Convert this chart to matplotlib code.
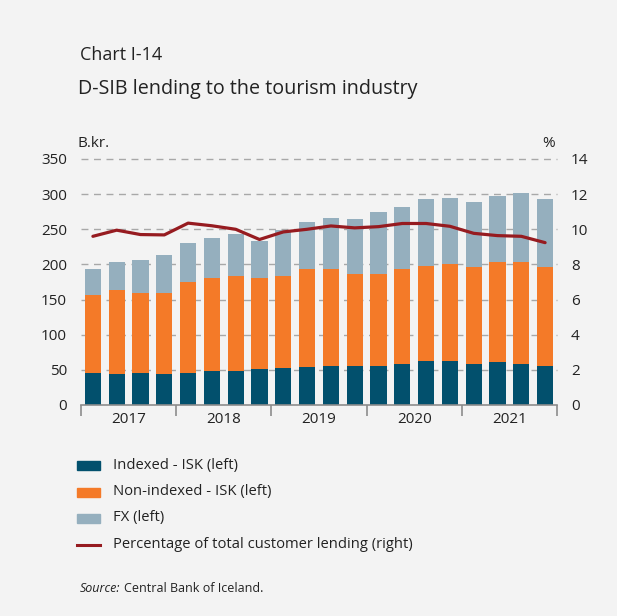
import matplotlib
matplotlib.use("Agg")
import matplotlib.pyplot as plt
from matplotlib.patches import Patch
from matplotlib.lines import Line2D
import numpy as np

# Quarterly data, 2017Q1 - 2021Q4
years = ["2017", "2018", "2019", "2020", "2021"]
indexed = [46, 44, 46, 44, 46, 49, 49, 51, 52, 54,
           56, 56, 55, 59, 62, 62, 59, 61, 59, 56]
non_indexed = [111, 119, 114, 116, 129, 132, 134, 130, 132, 140,
               138, 130, 131, 134, 136, 139, 138, 142, 144, 140]
fx = [37, 41, 47, 53, 56, 56, 60, 53, 65, 66,
      72, 78, 89, 89, 95, 93, 92, 94, 99, 97]
share_pct = [9.6, 9.95, 9.7, 9.68, 10.35, 10.2, 10.0, 9.42, 9.85, 10.0,
             10.19, 10.08, 10.15, 10.33, 10.33, 10.17, 9.77, 9.64, 9.6, 9.24]

c_idx = "#02506d"
c_non = "#f47a28"
c_fx = "#95afbe"
c_line = "#961b20"
bg = "#f3f3f3"
txt = "#222222"

font = ["Open Sans", "DejaVu Sans"]
plt.rcParams["font.family"] = font

W, H = 617, 616
fig = plt.figure(figsize=(W / 100, H / 100), dpi=100, facecolor=bg)

x0, x1, y0, y1 = 81, 557, 405, 159
ax = fig.add_axes([x0 / W, 1 - y0 / H, (x1 - x0) / W, (y0 - y1) / H])
ax.set_facecolor(bg)

n = len(indexed)
x = np.arange(n)
bw = 0.68
idx = np.array(indexed)
non = np.array(non_indexed)
ax.bar(x, idx, bw, color=c_idx, zorder=2)
ax.bar(x, non, bw, bottom=idx, color=c_non, zorder=2)
ax.bar(x, fx, bw, bottom=idx + non, color=c_fx, zorder=2)

ax.set_xlim(-0.5, n - 0.5)
ax.set_ylim(0, 350)
ax.set_yticks(np.arange(0, 351, 50))
for v in np.arange(50, 351, 50):
    ax.axhline(v, color="#a8a8a8", lw=1, ls=(0, (5, 4)), zorder=1, clip_on=False)

for s in ["top", "left", "right"]:
    ax.spines[s].set_visible(False)
ax.spines["bottom"].set_color("#8c8c8c")
ax.spines["bottom"].set_linewidth(1.2)
ax.spines["bottom"].set_zorder(3)

ax.set_xticks(np.arange(-0.5, n, 4))
ax.set_xticklabels([])
ax.tick_params(axis="x", which="major", length=8, width=1.2, color="#8c8c8c", direction="out")
ax.set_xticks(np.arange(1.5, n, 4), minor=True)
ax.set_xticklabels(years, minor=True)
ax.tick_params(axis="x", which="minor", length=0, pad=5, labelsize=11, labelcolor=txt)
ax.tick_params(axis="y", length=0, pad=10, labelsize=11, labelcolor=txt)

ax2 = ax.twinx()
ax2.set_ylim(0, 14)
ax2.set_yticks(np.arange(0, 15, 2))
ax2.tick_params(axis="y", length=0, pad=10, labelsize=11, labelcolor=txt)
for s in ["top", "left", "right", "bottom"]:
    ax2.spines[s].set_visible(False)
ax2.plot(x, share_pct, color=c_line, lw=2.3, solid_joinstyle="round",
         solid_capstyle="round", zorder=4)

# Titles and unit labels
fig.text(80 / W, 1 - 55 / H, "Chart I-14", fontsize=13, color=txt, va="center", ha="left")
fig.text(78 / W, 1 - 89 / H, "D-SIB lending to the tourism industry", fontsize=14.2,
         color=txt, va="center", ha="left")
fig.text(78 / W, 1 - 143 / H, "B.kr.", fontsize=11, color=txt, va="center", ha="left")
fig.text(549 / W, 1 - 143 / H, "%", fontsize=11, color=txt, va="center", ha="center")

# Legend
handles = [Patch(color=c_idx), Patch(color=c_non), Patch(color=c_fx),
           Line2D([0], [0], color=c_line, lw=2.2)]
labels = ["Indexed - ISK (left)", "Non-indexed - ISK (left)", "FX (left)",
          "Percentage of total customer lending (right)"]
leg_rows = [465, 492, 518, 545]
for h, lab, yy in zip(handles, labels, leg_rows):
    yf = 1 - yy / H
    if isinstance(h, Patch):
        fig.patches.append(plt.Rectangle((77 / W, yf - 4.5 / H), 23 / W, 9 / H,
                                         transform=fig.transFigure, color=h.get_facecolor()))
    else:
        fig.lines.append(Line2D([77 / W, 100 / W], [yf, yf], transform=fig.transFigure,
                                color=c_line, lw=2.2))
    fig.text(113 / W, yf, lab, fontsize=10.6, color=txt, va="center", ha="left")

fig.text(80 / W, 1 - 589 / H, "Source:", fontsize=9, style="italic", color=txt,
         va="center", ha="left")
fig.text(124 / W, 1 - 589 / H, "Central Bank of Iceland.", fontsize=9, color=txt,
         va="center", ha="left")

fig.savefig("out.png", dpi=100, facecolor=bg)
